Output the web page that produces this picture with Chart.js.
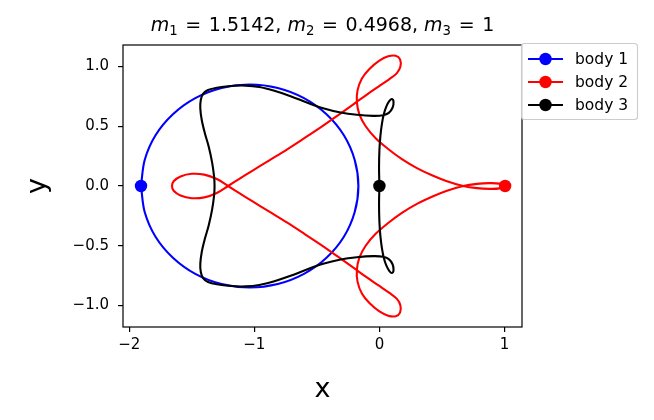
<!DOCTYPE html>
<html><head><meta charset="utf-8">
<script src="https://cdn.jsdelivr.net/npm/chart.js@4.4.0/dist/chart.umd.min.js"></script>
<style>html,body{margin:0;padding:0;background:#fff;}#wrap{width:654px;height:420px;position:relative;}</style>
</head><body><div id="wrap"><canvas id="c" width="654" height="420"></canvas></div>
<script>
// ---- data ----
const body1X = [-1.906,-1.876,-1.790,-1.651,-1.472,-1.262,-1.037,-0.812,-0.603,-0.423,-0.284,-0.198,-0.168,-0.198,-0.284,-0.423,-0.603,-0.812,-1.037,-1.262,-1.472,-1.651,-1.790,-1.876,-1.906];
const body1Y = [0,0.220,0.425,0.601,0.736,0.821,0.850,0.821,0.736,0.601,0.425,0.220,0,-0.220,-0.425,-0.601,-0.736,-0.821,-0.850,-0.821,-0.736,-0.601,-0.425,-0.220,0];

const body2X = [1.005,0.96,0.88,0.78,0.67,0.54,0.42,0.30,0.18,0.07,-0.03,-0.11,-0.16,-0.18,-0.175,-0.14,-0.08,0.0,0.07,0.13,0.165,0.168,0.14,0.08,-0.01,-0.10,-0.20,-0.34,-0.47,-0.60,-0.74,-0.88,-1.02,-1.12,-1.21,
  -1.30,-1.40,-1.50,-1.59,-1.645,-1.658,-1.645,-1.59,-1.50,-1.40,-1.30,
  -1.21,-1.12,-1.02,-0.88,-0.74,-0.60,-0.47,-0.34,-0.20,-0.10,-0.01,0.08,0.14,0.168,0.165,0.13,0.07,0.0,-0.08,-0.14,-0.175,-0.18,-0.16,-0.11,-0.03,0.07,0.18,0.30,0.42,0.54,0.67,0.78,0.88,0.96,1.005];
const body2Y = [0,0.020,0.024,0.018,0,-0.04,-0.09,-0.15,-0.225,-0.31,-0.40,-0.50,-0.60,-0.70,-0.80,-0.90,-0.98,-1.05,-1.085,-1.09,-1.06,-1.0,-0.945,-0.895,-0.83,-0.765,-0.69,-0.585,-0.49,-0.40,-0.305,-0.215,-0.125,-0.06,0,
  0.058,0.095,0.102,0.08,0.04,0,-0.04,-0.08,-0.102,-0.095,-0.058,
  0,0.06,0.125,0.215,0.305,0.40,0.49,0.585,0.69,0.765,0.83,0.895,0.945,1.0,1.06,1.09,1.085,1.05,0.98,0.90,0.80,0.70,0.60,0.50,0.40,0.31,0.225,0.15,0.09,0.04,0,-0.018,-0.024,-0.020,0];

const body3X = [0,-0.003,0.0,0.008,0.02,0.035,0.055,0.08,0.10,0.113,0.105,0.075,0.03,-0.05,-0.18,-0.31,-0.45,-0.58,-0.71,-0.84,-0.96,-1.07,-1.19,-1.30,-1.37,-1.41,-1.428,-1.432,-1.42,-1.395,-1.365,-1.338,-1.322,-1.318,
  -1.322,-1.338,-1.365,-1.395,-1.42,-1.432,-1.428,-1.41,-1.37,-1.30,-1.19,-1.07,-0.96,-0.84,-0.71,-0.58,-0.45,-0.31,-0.18,-0.05,0.03,0.075,0.105,0.113,0.10,0.08,0.055,0.035,0.02,0.008,0.0,-0.003,0];
const body3Y = [0,0.15,0.30,0.42,0.52,0.60,0.665,0.712,0.728,0.705,0.655,0.612,0.592,0.587,0.596,0.615,0.651,0.699,0.752,0.797,0.828,0.840,0.837,0.823,0.803,0.77,0.72,0.65,0.55,0.44,0.33,0.20,0.08,0,
  -0.08,-0.20,-0.33,-0.44,-0.55,-0.65,-0.72,-0.77,-0.803,-0.823,-0.837,-0.840,-0.828,-0.797,-0.752,-0.699,-0.651,-0.615,-0.596,-0.587,-0.592,-0.612,-0.655,-0.705,-0.728,-0.712,-0.665,-0.60,-0.52,-0.42,-0.30,-0.15,0];

const xTicks = [-2,-1,0,1];
const yTicks = [-1.0,-0.5,0.0,0.5,1.0];
const seriesLabels = ['body 1','body 2','body 3'];
const seriesColors = ['#0000ff','#ff0000','#000000'];
const massValues = ['1.5142','0.4968','1'];
const xLabel = 'x', yLabel = 'y';
const xRange = [-2.05, 1.14];
const yRange = [-1.18, 1.18];

// ---- build ----
function pts(xs, ys){ return xs.map((x,i)=>({x:x, y:ys[i]})); }
function lastPt(xs, ys){ return [{x:xs[0], y:ys[0]}]; }
function fmtMinus(s){ return s.replace('-', '\u2212'); }

const FONT = '"DejaVu Sans", "Liberation Sans", sans-serif';
const series = [[body1X,body1Y],[body2X,body2Y],[body3X,body3Y]];
const datasets = [];
series.forEach((s,i)=>{
  datasets.push({label:seriesLabels[i], data:pts(s[0],s[1]), showLine:true, borderColor:seriesColors[i], borderWidth:2.1,
    pointRadius:0, tension:0.35, fill:false, order:10-2*i});
  datasets.push({label:seriesLabels[i]+' marker', data:lastPt(s[0],s[1]), showLine:false, backgroundColor:seriesColors[i],
    borderColor:seriesColors[i], borderWidth:0, pointRadius:6.2, pointHoverRadius:6.2, order:9-2*i});
});

const decor = {
  id:'decor',
  afterDraw(chart){
    const ctx = chart.ctx, a = chart.chartArea;
    ctx.save();
    // frame
    ctx.strokeStyle = '#000'; ctx.lineWidth = 1.2;
    ctx.strokeRect(a.left, a.top, a.right-a.left, a.bottom-a.top);
    // title with subscripts (mathtext-like spacing)
    const fs = 19, sub = fs*0.7;
    const pieces = [];
    massValues.forEach((m,i)=>{
      pieces.push({t:'m', f:'italic '+fs+'px '+FONT, dy:0});
      pieces.push({t:String(i+1), f:sub+'px '+FONT, dy:fs*0.2});
      pieces.push({gap:fs*0.4});
      pieces.push({t:'=', f:fs+'px '+FONT, dy:0});
      pieces.push({gap:fs*0.4});
      pieces.push({t:m+(i<massValues.length-1?', ':''), f:fs+'px '+FONT, dy:0});
    });
    let w = 0;
    pieces.forEach(p=>{ if(p.gap){p.w=p.gap;} else { ctx.font = p.f; p.w = ctx.measureText(p.t).width; } w += p.w; });
    let x = (a.left+a.right)/2 - w/2;
    ctx.fillStyle = '#000'; ctx.textBaseline = 'alphabetic'; ctx.textAlign = 'left';
    pieces.forEach(p=>{ if(!p.gap){ ctx.font = p.f; ctx.fillText(p.t, x, 31 + p.dy); } x += p.w; });
    // axis labels
    ctx.font = '27px '+FONT; ctx.textAlign = 'center';
    ctx.fillText(xLabel, (a.left+a.right)/2, 397);
    ctx.save(); ctx.translate(45, (a.top+a.bottom)/2); ctx.rotate(-Math.PI/2);
    ctx.fillText(yLabel, 0, 0); ctx.restore();
    // legend
    const bx = 521.5, by = 43.5, bw = 116, bh = 76;
    ctx.beginPath(); ctx.roundRect(bx, by, bw, bh, 3);
    ctx.fillStyle = 'rgba(255,255,255,0.8)'; ctx.fill();
    ctx.strokeStyle = '#cccccc'; ctx.lineWidth = 1.1; ctx.stroke();
    const rows = [59, 82, 105];
    seriesLabels.forEach((lab,i)=>{
      const y = rows[i];
      ctx.strokeStyle = seriesColors[i]; ctx.lineWidth = 2.1;
      ctx.beginPath(); ctx.moveTo(528, y); ctx.lineTo(563, y); ctx.stroke();
      ctx.fillStyle = seriesColors[i];
      ctx.beginPath(); ctx.arc(545.5, y, 6.2, 0, Math.PI*2); ctx.fill();
      ctx.fillStyle = '#000'; ctx.font = '15.5px '+FONT; ctx.textAlign = 'left'; ctx.textBaseline = 'middle';
      ctx.fillText(lab, 575, y+1);
    });
    ctx.restore();
  }
};

new Chart(document.getElementById('c'), {
  type:'scatter',
  data:{datasets:datasets},
  options:{
    responsive:false, animation:false, devicePixelRatio:1,
    layout:{padding:{top:45, right:132, left:0, bottom:0}},
    plugins:{legend:{display:false}, title:{display:false}, tooltip:{enabled:false}},
    scales:{
      x:{type:'linear', min:xRange[0], max:xRange[1],
        afterBuildTicks:s=>{ s.ticks = xTicks.map(v=>({value:v})); },
        afterFit:s=>{ s.height = 93; },
        ticks:{callback:v=>fmtMinus(String(v)), font:{family:FONT, size:15}, color:'#000', padding:4, maxRotation:0, autoSkip:false},
        grid:{drawOnChartArea:false, drawTicks:true, tickLength:5, color:'#000', lineWidth:1.2},
        border:{display:false}},
      y:{type:'linear', min:yRange[0], max:yRange[1],
        afterBuildTicks:s=>{ s.ticks = yTicks.map(v=>({value:v})); },
        afterFit:s=>{ s.width = 123; },
        ticks:{callback:v=>fmtMinus(Number(v).toFixed(1)), font:{family:FONT, size:15}, color:'#000', padding:9, autoSkip:false},
        grid:{drawOnChartArea:false, drawTicks:true, tickLength:5, color:'#000', lineWidth:1.2},
        border:{display:false}}
    }
  },
  plugins:[decor]
});
</script></body></html>
